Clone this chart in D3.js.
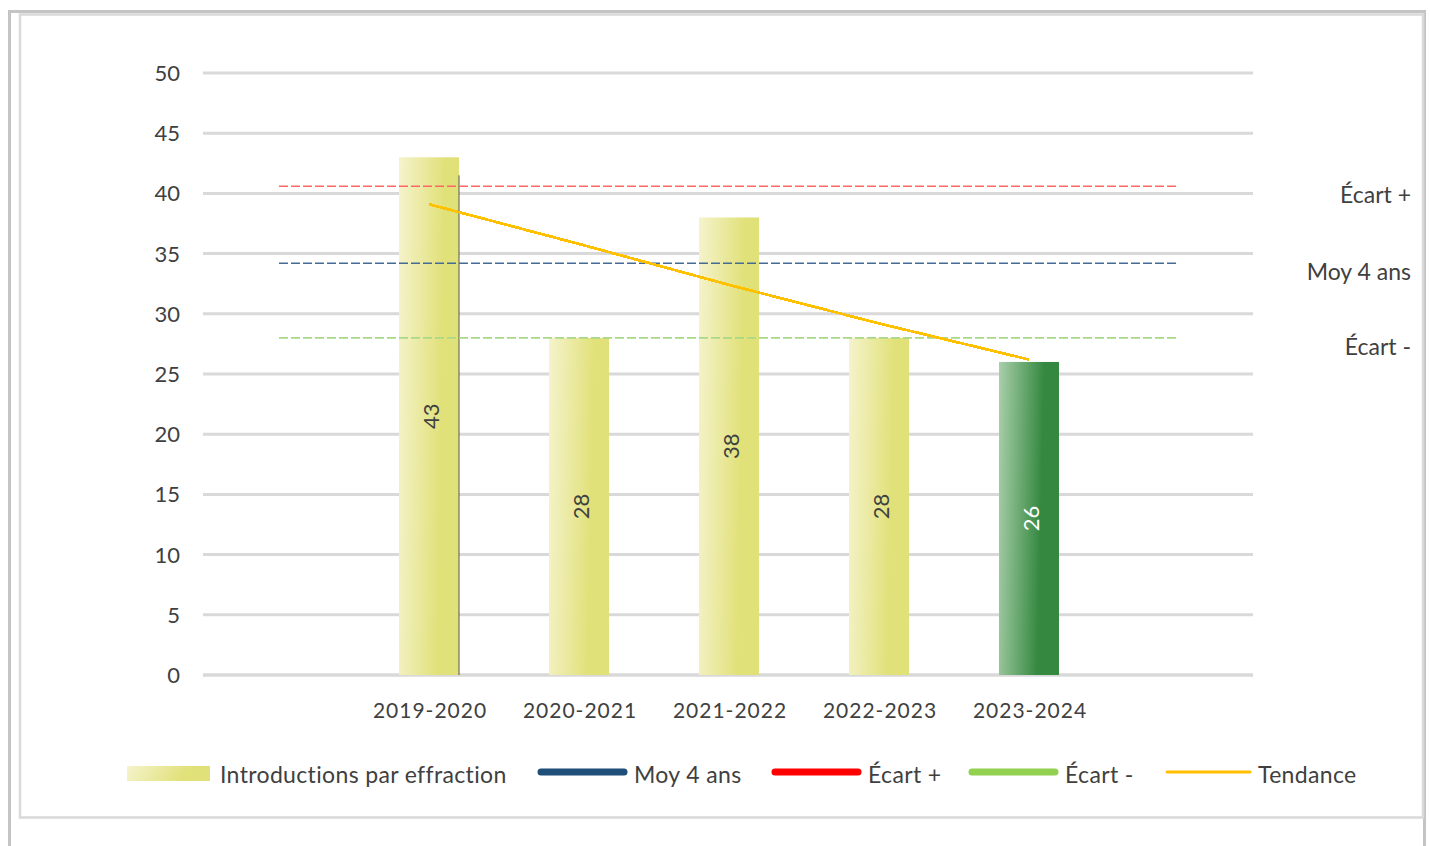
<!DOCTYPE html>
<html>
<head>
<meta charset="utf-8">
<script src="https://cdn.jsdelivr.net/npm/d3@7"></script>
<style>
  body { margin: 0; background: #fff; }
  svg { display: block; font-family: Lato, "Open Sans", sans-serif; }
</style>
</head>
<body>
<svg id="chart" width="1430" height="846"></svg>
<script>
// --- data ---
const seasons = ['2019-2020', '2020-2021', '2021-2022', '2022-2023', '2023-2024'];
const introductions = [43, 28, 38, 28, 26];
const trend = [39.1, 35.8, 32.4, 29.2, 26.2];
const refLines = [
  { key: 'ecartPlus', label: 'Écart +', value: 40.6 },
  { key: 'moy', label: 'Moy 4 ans', value: 34.2 },
  { key: 'ecartMoins', label: 'Écart -', value: 28.0 }
];
const yTicks = [0, 5, 10, 15, 20, 25, 30, 35, 40, 45, 50];
const legendItems = [
  { label: 'Introductions par effraction', type: 'bar' },
  { label: 'Moy 4 ans', type: 'line', color: '#1f4e79' },
  { label: 'Écart +', type: 'line', color: '#ff0000' },
  { label: 'Écart -', type: 'line', color: '#92d050' },
  { label: 'Tendance', type: 'thin', color: '#ffc000' }
];
// the first bar shows a thin dark edge up to this value
const edgeValue = 41.5;

const refColors = { ecartPlus: '#ff6666', moy: '#456a94', ecartMoins: '#a9d987' };

const svg = d3.select('#chart');
const plotLeft = 203, plotRight = 1253, plotTop = 73, plotBottom = 675;

// frame
svg.append('rect').attr('x', 9.5).attr('y', 11.5).attr('width', 1415).attr('height', 860)
  .attr('fill', 'none').attr('stroke', '#c4c4c4').attr('stroke-width', 3);
svg.append('rect').attr('x', 20).attr('y', 14.5).attr('width', 1403).attr('height', 803)
  .attr('fill', '#fff').attr('stroke', '#d9d9d9').attr('stroke-width', 2.5);

// gradients
const defs = svg.append('defs');
const grad = (id, light, dark) => {
  const g = defs.append('linearGradient').attr('id', id)
    .attr('x1', 0).attr('y1', 0).attr('x2', 1).attr('y2', 0.12);
  g.append('stop').attr('offset', '0%').attr('stop-color', light);
  g.append('stop').attr('offset', '75%').attr('stop-color', dark);
  g.append('stop').attr('offset', '100%').attr('stop-color', dark);
};
grad('gYellow', '#f5f3cc', '#e1e17a');
grad('gGreen', '#a9cfab', '#34883f');

// scales: an empty slot pads the categories on each side
const domain = ['_l', ...seasons, '_r'];
const x = d3.scaleBand().domain(domain).range([plotLeft + 1, plotRight + 1])
  .paddingInner(0.6).paddingOuter(0.3);
const y = d3.scaleLinear().domain([0, 50]).range([plotBottom, plotTop]);
const cx = d => x(d) + x.bandwidth() / 2;

// gridlines
svg.append('g').selectAll('line').data(yTicks).join('line')
  .attr('x1', plotLeft).attr('x2', plotRight)
  .attr('y1', d => y(d)).attr('y2', d => y(d))
  .attr('stroke', '#d9d9d9').attr('stroke-width', d => d === 0 ? 3.5 : 3);

// y labels
svg.append('g').selectAll('text').data(yTicks).join('text')
  .attr('x', 180).attr('y', d => y(d) + 8)
  .attr('text-anchor', 'end').attr('font-size', 22).attr('fill', '#404040')
  .text(d => d);

// x labels
svg.append('g').selectAll('text').data(seasons).join('text')
  .attr('x', d => cx(d) + 1).attr('y', 718)
  .attr('text-anchor', 'middle').attr('font-size', 21).attr('fill', '#404040')
  .attr('letter-spacing', 1)
  .text(d => d);

// bars
const last = seasons.length - 1;
svg.append('g').selectAll('rect').data(seasons).join('rect')
  .attr('x', d => x(d)).attr('width', x.bandwidth())
  .attr('y', (d, i) => y(introductions[i]))
  .attr('height', (d, i) => y(0) - y(introductions[i]))
  .attr('fill', (d, i) => i === last ? 'url(#gGreen)' : 'url(#gYellow)');

svg.append('line')
  .attr('x1', x(seasons[0]) + x.bandwidth()).attr('x2', x(seasons[0]) + x.bandwidth())
  .attr('y1', y(edgeValue)).attr('y2', y(0))
  .attr('stroke', '#555').attr('stroke-width', 1);

// reference lines
refLines.forEach(r => {
  svg.append('line')
    .attr('x1', cx('_l')).attr('x2', cx('_r'))
    .attr('y1', y(r.value)).attr('y2', y(r.value))
    .attr('stroke', refColors[r.key]).attr('stroke-width', 1.6)
    .attr('stroke-dasharray', '9,3');
});
svg.append('g').selectAll('text').data(refLines).join('text')
  .attr('x', 1411).attr('y', d => y(d.value) + 17)
  .attr('text-anchor', 'end').attr('font-size', 23).attr('fill', '#404040')
  .text(d => d.label);

// trend line
const line = d3.line().x((d, i) => cx(seasons[i])).y(d => y(d));
svg.append('path').datum(trend)
  .attr('fill', 'none').attr('stroke', '#ffc000').attr('stroke-width', 2.8)
  .attr('shape-rendering', 'crispEdges')
  .attr('d', line);

// bar value labels
svg.append('g').selectAll('text').data(seasons).join('text')
  .attr('transform', (d, i) =>
    `translate(${cx(d) + 10},${(y(introductions[i]) + y(0)) / 2}) rotate(-90)`)
  .attr('text-anchor', 'middle').attr('font-size', 22)
  .attr('fill', (d, i) => i === last ? '#ffffff' : '#404040')
  .text((d, i) => introductions[i]);

// legend
const legendX = [127, 538, 772, 969, 1164];
const legendTextX = [220, 634, 868, 1065, 1258];
const lg = svg.append('g');
legendItems.forEach((item, i) => {
  if (item.type === 'bar') {
    lg.append('rect').attr('x', legendX[i]).attr('y', 766)
      .attr('width', 83).attr('height', 15).attr('fill', 'url(#gYellow)');
  } else {
    lg.append('line')
      .attr('x1', legendX[i] + 3).attr('x2', legendX[i] + 86)
      .attr('y1', 772).attr('y2', 772)
      .attr('stroke', item.color)
      .attr('stroke-width', item.type === 'thin' ? 3 : 7)
      .attr('stroke-linecap', 'round');
  }
  lg.append('text').attr('x', legendTextX[i]).attr('y', 783)
    .attr('font-size', 23).attr('fill', '#404040').attr('letter-spacing', 0.35)
    .text(item.label);
});
</script>
</body>
</html>
